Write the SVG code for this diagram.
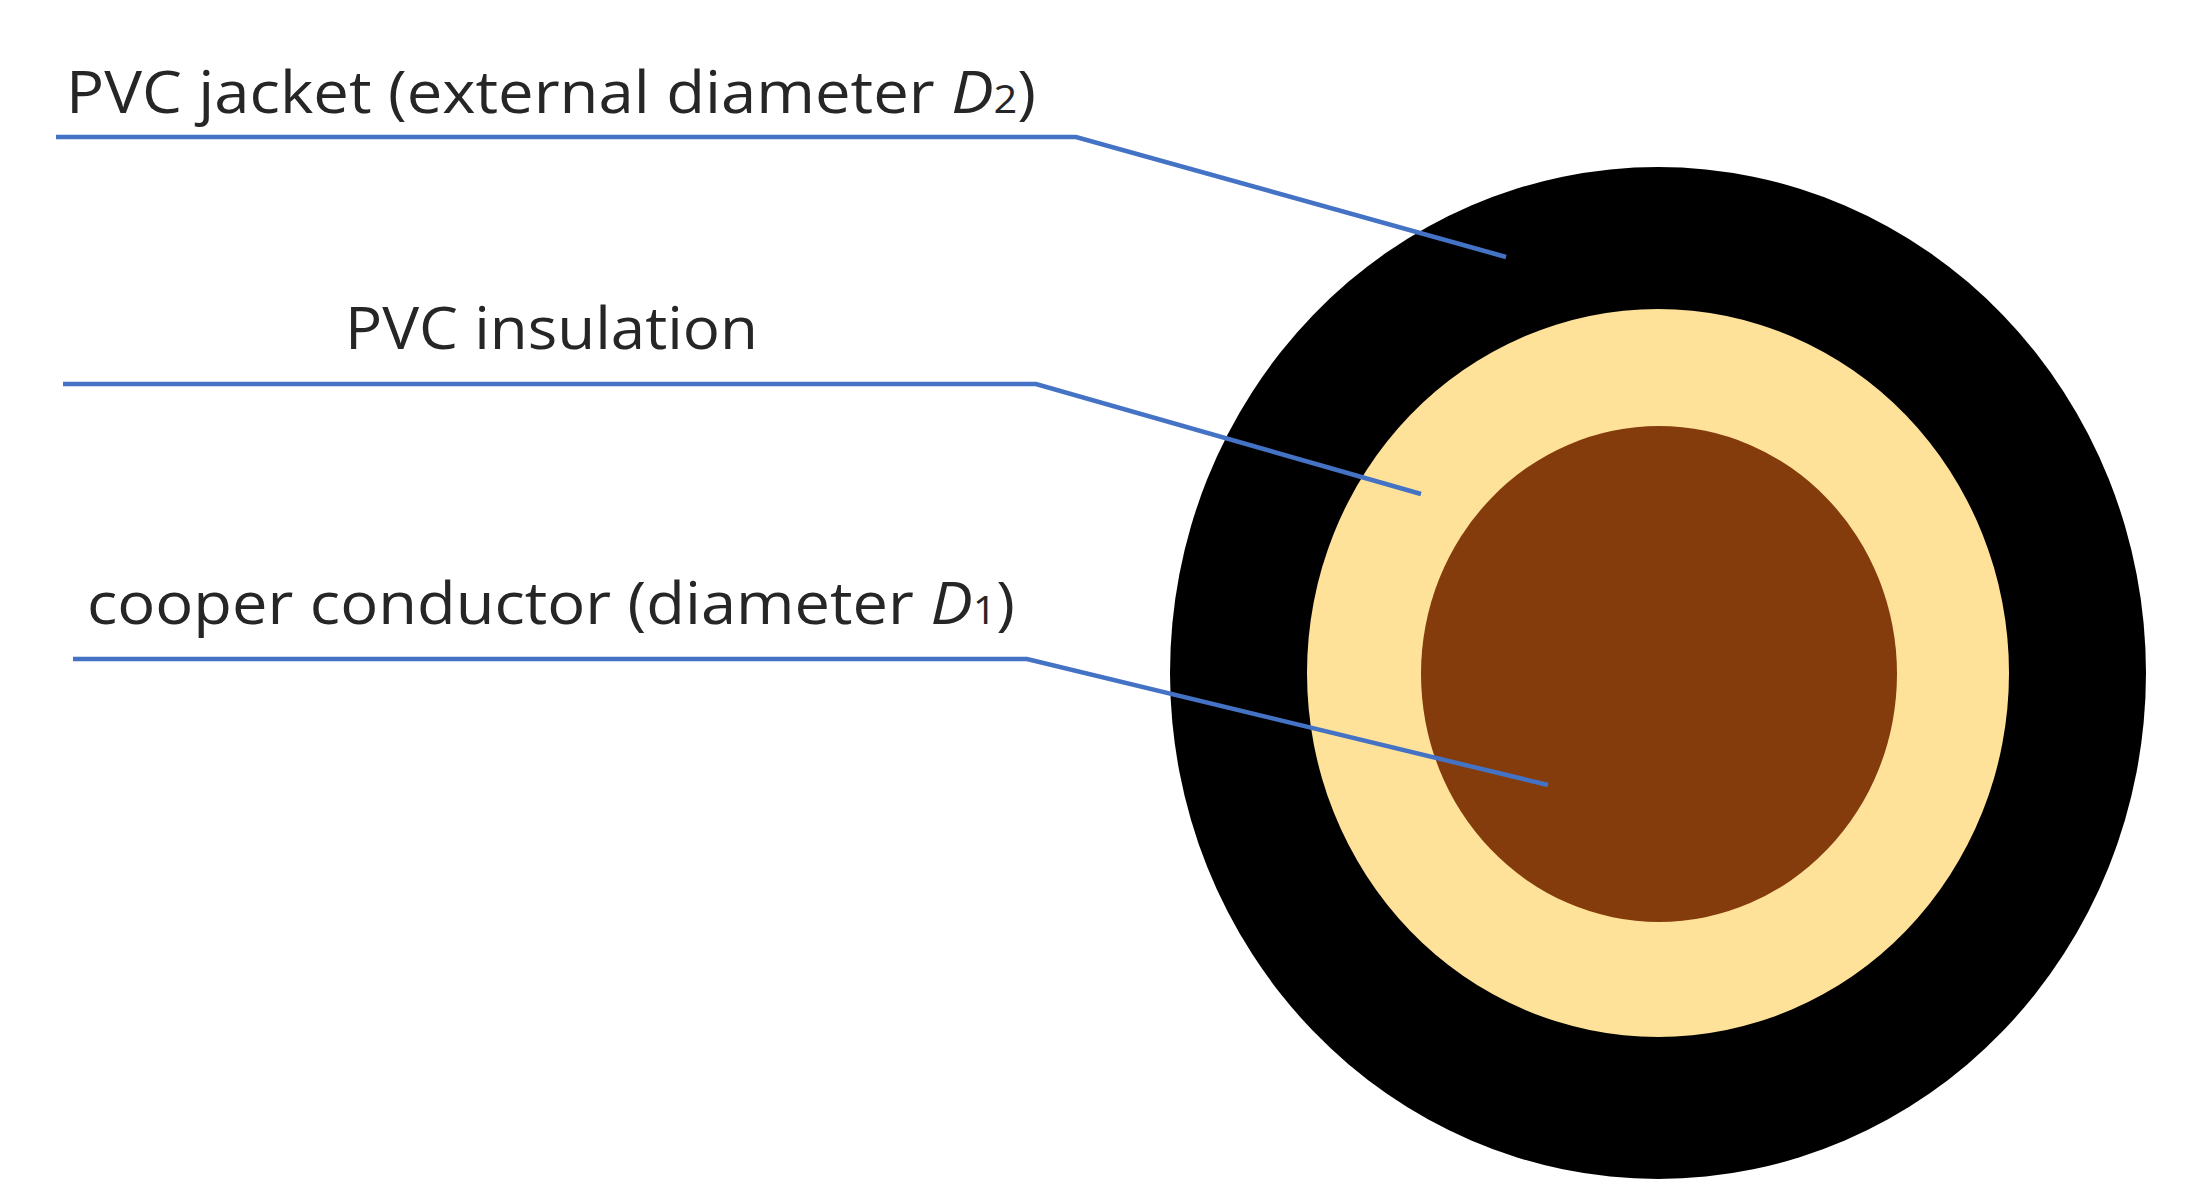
<svg xmlns="http://www.w3.org/2000/svg" width="2199" height="1196" viewBox="0 0 2199 1196">
<style>
.t{font-family:"Open Sans","Liberation Sans",sans-serif;font-size:58px;fill:#262626}
.l{fill:none;stroke:#4472C4;stroke-width:4.5}
</style>
<rect width="2199" height="1196" fill="#fff"/>
<g id="jacket"><ellipse cx="1658" cy="673" rx="488" ry="506" fill="#000"/></g>
<g id="insulation"><ellipse cx="1658" cy="673" rx="351" ry="364" fill="#FFE29A"/></g>
<g id="conductor"><ellipse cx="1659" cy="674" rx="238" ry="248" fill="#843C0C"/></g>
<g id="connectors">
<polyline class="l" points="56,137 1076,137 1506,257"/>
<polyline class="l" points="63,384 1036,384 1421,494"/>
<polyline class="l" points="73,659 1027,659 1548,785"/>
</g>
<g id="labels">
<text class="t" x="66" y="113" textLength="970" lengthAdjust="spacingAndGlyphs">PVC jacket (external diameter <tspan font-style="italic">D</tspan><tspan font-size="38">2</tspan>)</text>
<text class="t" x="345" y="349" textLength="413" lengthAdjust="spacingAndGlyphs">PVC insulation</text>
<text class="t" x="87" y="624" textLength="928" lengthAdjust="spacingAndGlyphs">cooper conductor (diameter <tspan font-style="italic">D</tspan><tspan font-size="38">1</tspan>)</text>
</g>
</svg>
